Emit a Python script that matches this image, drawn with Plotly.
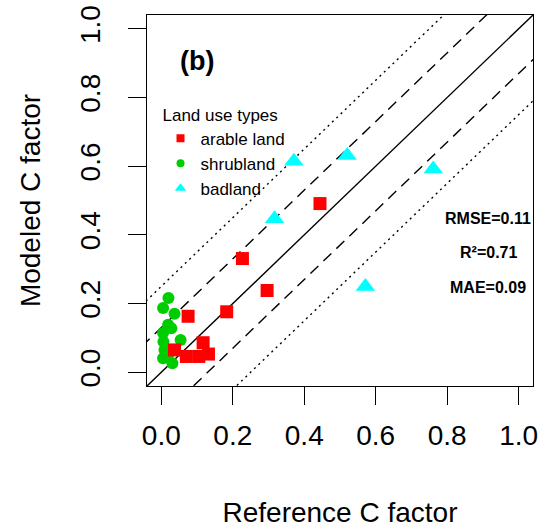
import plotly.graph_objects as go

# ---------------- data ----------------
arable_ref = [0.444, 0.227, 0.296, 0.183, 0.075, 0.117, 0.132, 0.105, 0.070, 0.037]
arable_mod = [0.491, 0.331, 0.238, 0.176, 0.163, 0.086, 0.053, 0.046, 0.046, 0.065]

shrub_ref = [0.020, 0.005, 0.037, 0.019, 0.028, 0.005, 0.054, 0.006, 0.009, 0.005, 0.031, 0.019]
shrub_mod = [0.216, 0.187, 0.170, 0.138, 0.128, 0.114, 0.094, 0.089, 0.065, 0.041, 0.026, 0.050]

bad_ref = [0.371, 0.520, 0.761, 0.317, 0.571]
bad_mod = [0.614, 0.631, 0.592, 0.447, 0.250]

ticks = [0.0, 0.2, 0.4, 0.6, 0.8, 1.0]
tick_labels = ["0.0", "0.2", "0.4", "0.6", "0.8", "1.0"]

line_x = [-0.2, 1.2]
dash_offset = 0.13
dot_offset = 0.25

stats_labels = ["RMSE=0.11", "R²=0.71", "MAE=0.09"]
stats_y = [0.447, 0.348, 0.246]
stats_x = 0.915

panel_label = "(b)"

RED = "#FF0000"
GREEN = "#00CD00"
CYAN = "#00FFFF"
FONT = "Liberation Sans, Arial, sans-serif"

fig = go.Figure()

# reference lines
def add_line(offset, dash):
    fig.add_trace(go.Scatter(
        x=line_x, y=[v + offset for v in line_x], mode="lines",
        line=dict(color="black", width=1.4, dash=dash),
        showlegend=False, hoverinfo="skip"))

add_line(0.0, "solid")
add_line(dash_offset, "11px,7px")
add_line(-dash_offset, "11px,7px")
add_line(dot_offset, "2px,4px")
add_line(-dot_offset, "2px,4px")

# data points
fig.add_trace(go.Scatter(x=shrub_ref, y=shrub_mod, mode="markers",
                         marker=dict(symbol="circle", size=12, color=GREEN),
                         showlegend=False))
fig.add_trace(go.Scatter(x=arable_ref, y=arable_mod, mode="markers",
                         marker=dict(symbol="square", size=13, color=RED),
                         showlegend=False))
fig.add_trace(go.Scatter(x=bad_ref, y=bad_mod, mode="markers",
                         marker=dict(symbol="triangle-up", size=17, color=CYAN),
                         showlegend=False))

# legend entries
for name, sym, col, sz in [("arable land", "square", RED, 8),
                           ("shrubland", "circle", GREEN, 8),
                           ("badland", "triangle-up", CYAN, 10)]:
    fig.add_trace(go.Scatter(x=[None], y=[None], mode="markers", name=name,
                             marker=dict(symbol=sym, size=sz, color=col)))

# panel label
fig.add_annotation(x=0.099, y=0.905, xref="x", yref="y", text="<b>" + panel_label + "</b>",
                   showarrow=False, font=dict(family=FONT, size=27, color="black"))

for lab, yy in zip(stats_labels, stats_y):
    fig.add_annotation(x=stats_x, y=yy, xref="x", yref="y", text="<b>" + lab + "</b>",
                       showarrow=False, font=dict(family=FONT, size=16, color="black"))

axis_common = dict(
    range=[-0.04, 1.04], tickvals=ticks, ticktext=tick_labels, automargin=False,
    showgrid=False, zeroline=False, showline=True, linecolor="black", linewidth=1.4,
    mirror=True, ticks="outside", ticklen=18, tickwidth=1.4, tickcolor="black",
    tickfont=dict(family=FONT, size=28, color="black"), ticklabeloverflow="allow",
)

fig.update_xaxes(**axis_common,
                 title=dict(text="Reference C factor", font=dict(family=FONT, size=28, color="black"),
                            standoff=52),
                 ticklabelstandoff=6)
fig.update_yaxes(**axis_common, tickangle=-90,
                 title=dict(text="Modeled C factor", font=dict(family=FONT, size=28, color="black"),
                            standoff=25),
                 ticklabelstandoff=17)

fig.update_layout(
    template="none",
    width=547, height=531,
    margin=dict(l=147, r=14, t=15, b=145, autoexpand=False),
    paper_bgcolor="white", plot_bgcolor="white",
    font=dict(family=FONT, color="black"),
    legend=dict(
        title=dict(text="Land use types", font=dict(family=FONT, size=17, color="black")),
        font=dict(family=FONT, size=17, color="black"),
        x=0.035, y=0.775, xanchor="left", yanchor="top",
        bgcolor="rgba(0,0,0,0)", itemsizing="trace", tracegroupgap=0,
    ),
)

# remove the default 8px page margin so the figure fills the window exactly
fig.write_html("out.html",
               config={"displayModeBar": False},
               post_script="document.body.style.margin='0';document.body.style.overflow='hidden';")
